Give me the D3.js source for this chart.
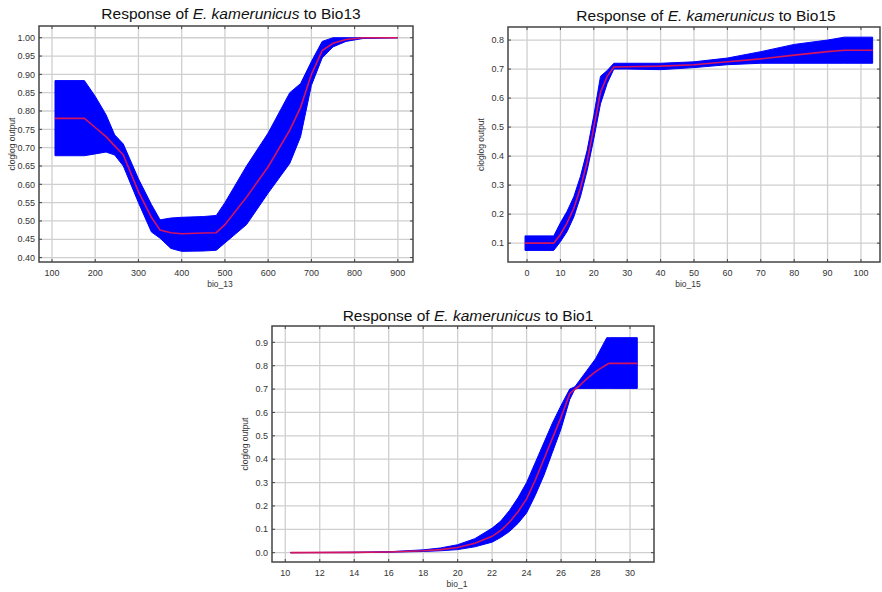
<!DOCTYPE html>
<html>
<head>
<meta charset="utf-8">
<script src="https://cdn.jsdelivr.net/npm/d3@7"></script>
<style>
  body { margin: 0; background: #fff; }
  svg { font-family: "Liberation Sans", Arial, sans-serif; }
</style>
</head>
<body>
<div class="viewbox"></div>
<script>
// response curves: x, mean, lower, upper
const bio13X     = [107, 175, 200, 225, 245, 265, 300, 330, 350, 375, 400, 450, 480, 500, 550, 600, 650, 675, 700, 725, 750, 780, 820, 900];
const bio13Mean  = [0.78, 0.78, 0.755, 0.73, 0.705, 0.68, 0.58, 0.51, 0.475, 0.468, 0.465, 0.467, 0.468, 0.49, 0.565, 0.648, 0.748, 0.81, 0.90, 0.965, 0.985, 0.995, 1.0, 1.0];
const bio13Lower = [0.678, 0.678, 0.683, 0.688, 0.68, 0.65, 0.55, 0.47, 0.453, 0.425, 0.417, 0.418, 0.42, 0.44, 0.49, 0.576, 0.657, 0.73, 0.87, 0.945, 0.975, 0.99, 0.998, 1.0];
const bio13Upper = [0.883, 0.883, 0.84, 0.79, 0.735, 0.71, 0.615, 0.545, 0.503, 0.508, 0.51, 0.512, 0.515, 0.55, 0.65, 0.74, 0.85, 0.875, 0.935, 0.99, 1.0, 1.0, 1.0, 1.0];

const bio15X     = [-0.6, 8, 10, 12, 14, 16, 18, 20, 22, 24, 26, 30, 40, 50, 60, 70, 80, 90, 95, 103.5];
const bio15Mean  = [0.1, 0.1, 0.13, 0.17, 0.22, 0.29, 0.38, 0.5, 0.62, 0.675, 0.707, 0.708, 0.71, 0.715, 0.725, 0.735, 0.748, 0.76, 0.765, 0.765];
const bio15Lower = [0.075, 0.075, 0.105, 0.14, 0.19, 0.26, 0.35, 0.46, 0.58, 0.65, 0.70, 0.70, 0.698, 0.705, 0.715, 0.72, 0.72, 0.72, 0.72, 0.72];
const bio15Upper = [0.125, 0.125, 0.17, 0.21, 0.26, 0.33, 0.42, 0.54, 0.675, 0.695, 0.72, 0.72, 0.72, 0.725, 0.738, 0.76, 0.785, 0.80, 0.81, 0.81];

const bio1X     = [10.3, 14, 16, 18, 19, 20, 21, 22, 22.5, 23, 23.5, 24, 24.5, 25, 25.5, 26, 26.5, 26.8, 27, 27.5, 28, 28.65, 28.8, 30.42];
const bio1Mean  = [0.0, 0.001, 0.003, 0.008, 0.013, 0.022, 0.04, 0.07, 0.095, 0.13, 0.175, 0.23, 0.31, 0.40, 0.49, 0.58, 0.68, 0.70, 0.71, 0.745, 0.775, 0.805, 0.81, 0.81];
const bio1Lower = [0.0, 0.0, 0.002, 0.005, 0.008, 0.013, 0.025, 0.045, 0.065, 0.09, 0.125, 0.17, 0.245, 0.33, 0.43, 0.53, 0.655, 0.70, 0.703, 0.703, 0.703, 0.703, 0.703, 0.703];
const bio1Upper = [0.0, 0.002, 0.004, 0.012, 0.02, 0.034, 0.06, 0.105, 0.135, 0.18, 0.235, 0.30, 0.385, 0.47, 0.555, 0.63, 0.70, 0.71, 0.73, 0.78, 0.83, 0.92, 0.92, 0.92];

const bio13XTicks = d3.range(100, 901, 100);
const bio13YTicks = d3.range(0.40, 1.0001, 0.05);
const bio15XTicks = d3.range(0, 101, 10);
const bio15YTicks = d3.range(0.1, 0.8001, 0.1);
const bio1XTicks  = d3.range(10, 31, 2);
const bio1YTicks  = d3.range(0.0, 0.9001, 0.1);

const W = 882, H = 592;
const svg = d3.select(".viewbox").append("svg")
  .attr("width", W).attr("height", H);

const panels = [
  { x: bio13X, mean: bio13Mean, lo: bio13Lower, hi: bio13Upper, title: "Bio13", xlab: "bio_13",
    box: [39, 413, 26, 262], xdom: [70, 935], ydom: [0.388, 1.032], xt: bio13XTicks, yt: bio13YTicks, yfmt: ".2f",
    tx: 231, ty: 18.5 },
  { x: bio15X, mean: bio15Mean, lo: bio15Lower, hi: bio15Upper, title: "Bio15", xlab: "bio_15",
    box: [508, 880, 27, 262], xdom: [-5.7, 105.7], ydom: [0.035, 0.845], xt: bio15XTicks, yt: bio15YTicks, yfmt: ".1f",
    tx: 706, ty: 20.5 },
  { x: bio1X, mean: bio1Mean, lo: bio1Lower, hi: bio1Upper, title: "Bio1", xlab: "bio_1",
    box: [272, 654, 326, 562], xdom: [9.23, 31.39], ydom: [-0.04, 0.97], xt: bio1XTicks, yt: bio1YTicks, yfmt: ".1f",
    tx: 468, ty: 320.5 }
];

panels.forEach(p => {
  const [l, r, t, b] = p.box;
  const x = d3.scaleLinear().domain(p.xdom).range([l, r]);
  const y = d3.scaleLinear().domain(p.ydom).range([b, t]);
  const g = svg.append("g");
  const rows = p.x.map((v, i) => ({ x: v, m: p.mean[i], lo: p.lo[i], hi: p.hi[i] }));

  // grid
  g.selectAll(".gx").data(p.xt).enter().append("line")
    .attr("x1", d => x(d)).attr("x2", d => x(d)).attr("y1", t).attr("y2", b)
    .attr("stroke", "#cfcfcf").attr("stroke-width", 1.3);
  g.selectAll(".gy").data(p.yt).enter().append("line")
    .attr("y1", d => y(d)).attr("y2", d => y(d)).attr("x1", l).attr("x2", r)
    .attr("stroke", "#cfcfcf").attr("stroke-width", 1.3);

  // band + mean
  g.append("path").datum(rows)
    .attr("d", d3.area().x(d => x(d.x)).y0(d => y(d.lo)).y1(d => y(d.hi)))
    .attr("fill", "#0000ff").attr("stroke", "#0000ff").attr("stroke-width", 1);
  g.append("path").datum(rows)
    .attr("d", d3.line().x(d => x(d.x)).y(d => y(d.m)))
    .attr("fill", "none").attr("stroke", "#d4145e").attr("stroke-width", 1.6);

  // inward ticks on all sides
  const tk = 3;
  p.xt.forEach(v => {
    g.append("line").attr("x1", x(v)).attr("x2", x(v)).attr("y1", b).attr("y2", b - tk).attr("stroke", "#444");
    g.append("line").attr("x1", x(v)).attr("x2", x(v)).attr("y1", t).attr("y2", t + tk).attr("stroke", "#444");
  });
  p.yt.forEach(v => {
    g.append("line").attr("y1", y(v)).attr("y2", y(v)).attr("x1", l).attr("x2", l + tk).attr("stroke", "#444");
    g.append("line").attr("y1", y(v)).attr("y2", y(v)).attr("x1", r).attr("x2", r - tk).attr("stroke", "#444");
  });

  // frame
  g.append("rect").attr("x", l).attr("y", t).attr("width", r - l).attr("height", b - t)
    .attr("fill", "none").attr("stroke", "#444").attr("stroke-width", 1.5);

  // tick labels
  g.selectAll(".xl").data(p.xt).enter().append("text")
    .attr("x", d => x(d)).attr("y", b + 13.5)
    .attr("text-anchor", "middle").attr("font-size", 9).attr("fill", "#333")
    .text(d => d3.format("d")(d));
  g.selectAll(".yl").data(p.yt).enter().append("text")
    .attr("x", l - 4).attr("y", d => y(d) + 3.2)
    .attr("text-anchor", "end").attr("font-size", 9).attr("fill", "#333")
    .text(d => d3.format(p.yfmt)(d));

  // axis titles
  g.append("text").attr("x", (l + r) / 2 - 6).attr("y", b + 25)
    .attr("text-anchor", "middle").attr("font-size", 8.5).attr("fill", "#333").text(p.xlab);
  g.append("text")
    .attr("transform", `translate(${l - 24},${(t + b) / 2}) rotate(-90)`)
    .attr("text-anchor", "middle").attr("font-size", 8.5).attr("fill", "#333").text("cloglog output");

  // panel title
  const tt = g.append("text").attr("x", p.tx).attr("y", p.ty)
    .attr("text-anchor", "middle").attr("font-size", 15.5).attr("fill", "#111");
  tt.append("tspan").text("Response of ");
  tt.append("tspan").attr("font-style", "italic").text("E. kamerunicus");
  tt.append("tspan").text(" to " + p.title);
});
</script>
</body>
</html>
